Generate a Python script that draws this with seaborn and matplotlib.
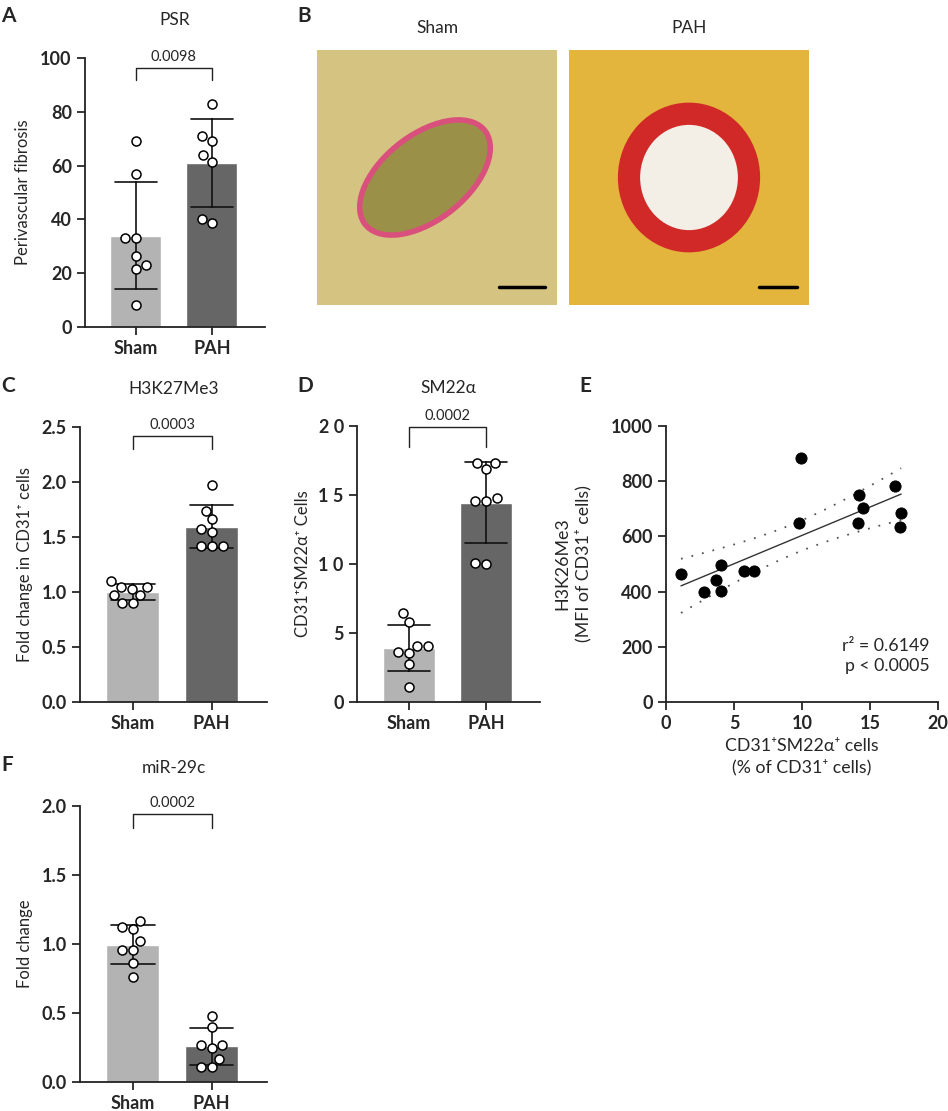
import numpy as np
import pandas as pd
import matplotlib
matplotlib.use("Agg")
import matplotlib.pyplot as plt
from matplotlib.patches import Ellipse
import seaborn as sns

# ---------------------------------------------------------------
# data
# ---------------------------------------------------------------
GROUPS = ["Sham", "PAH"]
BAR_COLORS = {"Sham": "#b3b3b3", "PAH": "#666666"}

psr_sham = [69, 57, 33, 33, 26.5, 23, 21.5, 8]
psr_pah = [83, 69, 71, 61.5, 64, 38.5, 40]

h3k27_sham = [1.05, 1.10, 1.03, 1.05, 0.97, 0.90, 0.90, 0.97]
h3k27_pah = [1.97, 1.74, 1.66, 1.57, 1.55, 1.42, 1.42, 1.42]

sm22_sham = [6.46, 5.8, 3.63, 4.04, 3.55, 4.04, 2.78, 1.09]
sm22_pah = [17.3, 17.3, 16.9, 14.6, 14.8, 14.6, 10.0, 10.1]

mir29_sham = [1.17, 1.11, 1.02, 0.96, 1.12, 0.96, 0.86, 0.76]
mir29_pah = [0.48, 0.40, 0.27, 0.27, 0.25, 0.17, 0.11, 0.11]

corr_x = [1.1, 2.76, 3.69, 4.03, 4.08, 5.75, 6.48, 9.8, 9.95, 14.16, 14.45, 14.13, 16.87, 17.29, 17.24]
corr_y = [463, 399, 441, 496, 403, 475, 473, 647, 885, 750, 704, 647, 784, 683, 635]

p_values = {"A": "0.0098", "C": "0.0003", "D": "0.0002", "F": "0.0002"}

# ---------------------------------------------------------------
# style
# ---------------------------------------------------------------
sns.set_style("ticks")
plt.rcParams["font.family"] = ["Lato", "DejaVu Sans"]
plt.rcParams["axes.linewidth"] = 1.3
plt.rcParams["xtick.major.width"] = 1.3
plt.rcParams["ytick.major.width"] = 1.3
plt.rcParams["xtick.major.size"] = 6
plt.rcParams["ytick.major.size"] = 6
plt.rcParams["axes.edgecolor"] = "#222222"

TICK_FS = 13
LABEL_FS = 12
TITLE_FS = 12.5

W, H = 948, 1111
fig = plt.figure(figsize=(W / 100, H / 100), dpi=100)


def add_ax(left, top, right, bottom):
    return fig.add_axes([left / W, 1 - bottom / H, (right - left) / W, (bottom - top) / H])


def bar_panel(ax, sham, pah, title, ylabel, ylim, yticks, ytlabels, pval, br_lo, br_hi, label_x):
    df = pd.DataFrame({"group": ["Sham"] * len(sham) + ["PAH"] * len(pah),
                       "value": list(sham) + list(pah)})
    sns.barplot(data=df, x="group", y="value", hue="group", order=GROUPS, palette=BAR_COLORS,
                errorbar="sd", capsize=0.55, width=0.67, legend=False,
                err_kws={"color": "#111111", "linewidth": 1.2}, ax=ax)
    sns.swarmplot(data=df, x="group", y="value", order=GROUPS, color="white",
                  edgecolor="black", linewidth=1.1, size=6.5, ax=ax, zorder=4)
    ax.set_xlim(-0.67, 1.70)
    ax.set_ylim(*ylim)
    ax.set_yticks(yticks)
    ax.set_yticklabels(ytlabels, fontweight="bold", fontsize=TICK_FS)
    ax.set_xticks([0, 1])
    ax.set_xticklabels(GROUPS, fontweight="bold", fontsize=TICK_FS)
    ax.set_xlabel("")
    ax.set_ylabel(ylabel, fontsize=LABEL_FS)
    ax.yaxis.set_label_coords(label_x, 0.5)
    ax.set_title(title, fontsize=TITLE_FS, pad=24)
    sns.despine(ax=ax)
    # significance bracket
    ax.plot([0, 0, 1, 1], [br_lo, br_hi, br_hi, br_lo], color="#222222", lw=1.0, clip_on=False)
    ax.annotate(pval, xy=(0.5, br_hi), xytext=(0, 3), textcoords="offset points",
                ha="center", va="bottom", fontsize=10.5, annotation_clip=False)


# A - PSR
axA = add_ax(85, 58, 265, 327)
bar_panel(axA, psr_sham, psr_pah, "PSR", "Perivascular fibrosis", (0, 100), [0, 20, 40, 60, 80, 100],
          ["0", "20", "40", "60", "80", "100"], p_values["A"], 92, 96.3, -0.30)

# C - H3K27Me3
axC = add_ax(80, 427, 267, 702)
bar_panel(axC, h3k27_sham, h3k27_pah, "H3K27Me3", "Fold change in CD31⁺ cells", (0, 2.5),
          [0, 0.5, 1.0, 1.5, 2.0, 2.5], ["0.0", "0.5", "1.0", "1.5", "2.0", "2.5"],
          p_values["C"], 2.30, 2.42, -0.25)

# D - SM22a
axD = add_ax(357, 426, 540, 702)
bar_panel(axD, sm22_sham, sm22_pah, "SM22α", "CD31⁺SM22α⁺ Cells", (0, 20),
          [0, 5, 10, 15, 20], ["0", "5", "1 0", "1 5", "2 0"],
          p_values["D"], 18.45, 19.95, -0.25)

# F - miR-29c
axF = add_ax(80, 806, 267, 1082)
bar_panel(axF, mir29_sham, mir29_pah, "miR-29c", "Fold change", (0, 2.0),
          [0, 0.5, 1.0, 1.5, 2.0], ["0.0", "0.5", "1.0", "1.5", "2.0"],
          p_values["F"], 1.84, 1.94, -0.25)

# E - correlation
axE = add_ax(666, 426, 938, 702)
cx = np.array(corr_x)
cy = np.array(corr_y)
sns.scatterplot(x=cx, y=cy, color="black", s=65, edgecolor="black", ax=axE, zorder=3)
slope, intercept = np.polyfit(cx, cy, 1)
xs = np.linspace(cx.min(), cx.max(), 50)
fit = slope * xs + intercept
resid = cy - (slope * cx + intercept)
s_err = np.sqrt(np.sum(resid ** 2) / (len(cx) - 2))
sxx = np.sum((cx - cx.mean()) ** 2)
band = 2.160 * s_err * np.sqrt(1 / len(cx) + (xs - cx.mean()) ** 2 / sxx)  # 95% CI, df=13
axE.plot(xs, fit, color="#333333", lw=1.0)
axE.plot(xs, fit + band, color="#555555", lw=1.3, ls=(0, (1, 5)))
axE.plot(xs, fit - band, color="#555555", lw=1.3, ls=(0, (1, 5)))
axE.set_xlim(0, 20)
axE.set_ylim(0, 1000)
axE.set_xticks([0, 5, 10, 15, 20])
axE.set_xticklabels(["0", "5", "10", "15", "20"], fontweight="bold", fontsize=TICK_FS)
axE.set_yticks([0, 200, 400, 600, 800, 1000])
axE.set_yticklabels(["0", "200", "400", "600", "800", "1000"], fontweight="bold", fontsize=TICK_FS)
axE.set_xlabel("CD31⁺SM22α⁺ cells\n(% of CD31⁺ cells)", fontsize=12.8, linespacing=1.35)
axE.set_ylabel("H3K26Me3\n(MFI of CD31⁺ cells)", fontsize=12.8, linespacing=1.35)
axE.yaxis.set_label_coords(-0.275, 0.5)
axE.text(0.97, 0.10, "r² = 0.6149\np < 0.0005", transform=axE.transAxes, ha="right", va="bottom",
         fontsize=12.8, linespacing=1.3)
sns.despine(ax=axE)

# B - histology placeholders
for (l, r), name, base, ring, ring_w, core in [((317, 557), "Sham", "#d5c381", "#d9507c", 4, "#9a9048"),
                                               ((569, 809), "PAH", "#e3b53c", "#d12828", 16, "#f4efe6")]:
    axB = add_ax(l, 50, r, 305)
    axB.set_facecolor(base)
    axB.set_xticks([])
    axB.set_yticks([])
    for sp in axB.spines.values():
        sp.set_visible(False)
    axB.set_xlim(0, 1)
    axB.set_ylim(0, 1)
    if name == "Sham":
        axB.add_patch(Ellipse((0.45, 0.5), 0.62, 0.34, angle=35, facecolor=core, edgecolor=ring, lw=ring_w))
    else:
        axB.add_patch(Ellipse((0.5, 0.5), 0.5, 0.5, facecolor=core, edgecolor=ring, lw=ring_w))
    axB.plot([0.76, 0.95] if name == "Sham" else [0.79, 0.95], [0.07, 0.07], color="black", lw=2.5)
    axB.set_title(name, fontsize=TITLE_FS, pad=12)

# panel letters
for letter, (px, py) in {"A": (8, 16), "B": (304, 16), "C": (8, 386), "D": (305, 386),
                         "E": (585, 386), "F": (7, 765)}.items():
    fig.text(px / W, 1 - py / H, letter, fontsize=15, fontweight="bold", ha="center", va="center")

plt.savefig("out.png", dpi=100)
